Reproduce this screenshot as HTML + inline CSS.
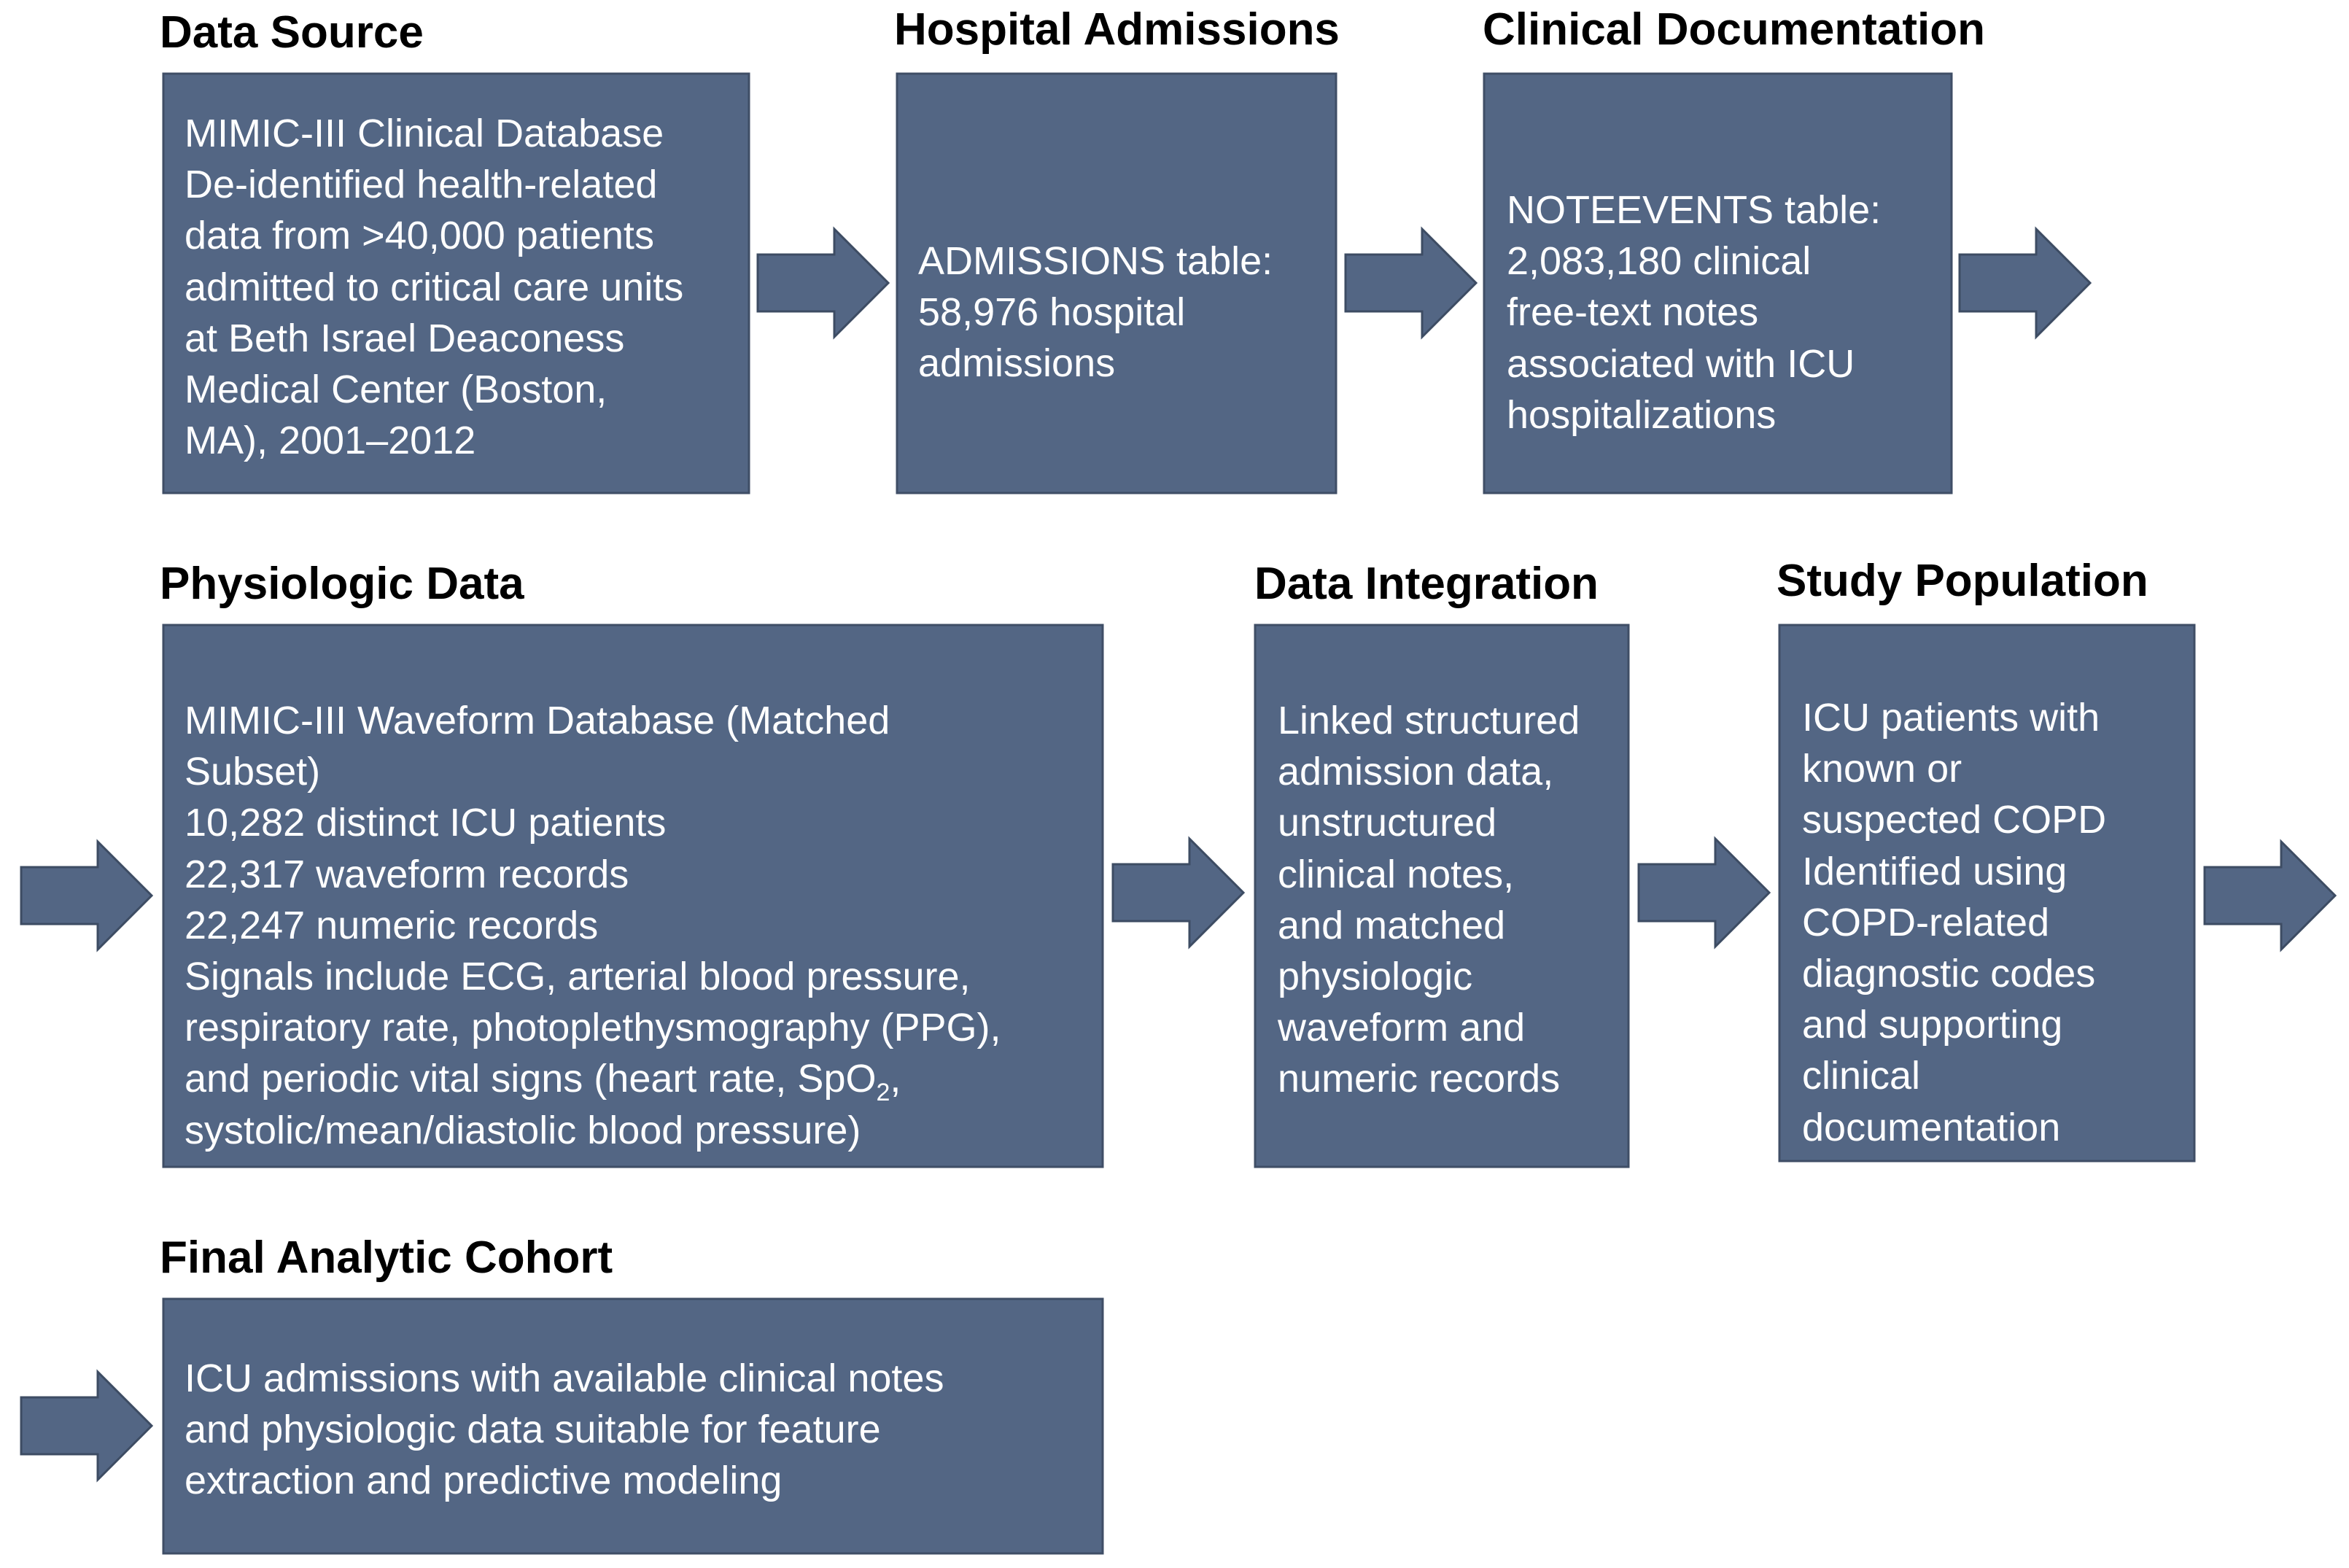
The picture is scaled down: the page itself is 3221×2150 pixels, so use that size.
<!DOCTYPE html>
<html><head><meta charset="utf-8"><style>
html,body{margin:0;padding:0;background:#fff}
body{width:3221px;height:2150px;position:relative;overflow:hidden;font-family:"Liberation Sans",Arial,sans-serif}
svg{position:absolute;left:0;top:0}
.t{position:absolute;font-weight:bold;font-size:62px;line-height:62px;color:#000;white-space:nowrap}
.b{position:absolute;font-size:54px;line-height:70.2px;color:#fff;white-space:nowrap}
</style></head><body>
<svg width="3221" height="2150" viewBox="0 0 3221 2150">
<defs>
<g id="ar"><polygon points="0,35 105,35 105,0 179,74 105,148 105,113 0,113" fill="#536684" stroke="#3d4c63" stroke-width="3"/></g>
</defs>
<g fill="#536684" stroke="#3f4e66" stroke-width="3">
<rect x="224" y="101" width="803" height="575"/>
<rect x="1230" y="101" width="602" height="575"/>
<rect x="2035" y="101" width="641" height="575"/>
<rect x="224" y="857" width="1288" height="743"/>
<rect x="1721" y="857" width="512" height="743"/>
<rect x="2440" y="857" width="569" height="735"/>
<rect x="224" y="1781" width="1288" height="349"/>
</g>
<use href="#ar" x="1039" y="314"/>
<use href="#ar" x="1845" y="314"/>
<use href="#ar" x="2687" y="314"/>
<use href="#ar" x="29" y="1154"/>
<use href="#ar" x="1526" y="1150"/>
<use href="#ar" x="2247" y="1150"/>
<use href="#ar" x="3023" y="1154"/>
<use href="#ar" x="29" y="1881"/>
</svg>

<div class="t" style="left:219px;top:14px">Data Source</div>
<div class="t" style="left:1226px;top:10px">Hospital Admissions</div>
<div class="t" style="left:2033px;top:10px">Clinical Documentation</div>
<div class="t" style="left:219px;top:770px">Physiologic Data</div>
<div class="t" style="left:1720px;top:770px">Data Integration</div>
<div class="t" style="left:2436px;top:766px">Study Population</div>
<div class="t" style="left:219px;top:1694px">Final Analytic Cohort</div>

<div class="b" style="left:253px;top:148px">MIMIC-III Clinical Database<br>De-identified health-related<br>data from &gt;40,000 patients<br>admitted to critical care units<br>at Beth Israel Deaconess<br>Medical Center (Boston,<br>MA), 2001–2012</div>
<div class="b" style="left:1259px;top:323px">ADMISSIONS table:<br>58,976 hospital<br>admissions</div>
<div class="b" style="left:2066px;top:253px">NOTEEVENTS table:<br>2,083,180 clinical<br>free-text notes<br>associated with ICU<br>hospitalizations</div>
<div class="b" style="left:253px;top:953px">MIMIC-III Waveform Database (Matched<br>Subset)<br>10,282 distinct ICU patients<br>22,317 waveform records<br>22,247 numeric records<br>Signals include ECG, arterial blood pressure,<br>respiratory rate, photoplethysmography (PPG),<br>and periodic vital signs (heart rate, SpO<sub style="font-size:34px;line-height:0">2</sub>,<br>systolic/mean/diastolic blood pressure)</div>
<div class="b" style="left:1752px;top:953px">Linked structured<br>admission data,<br>unstructured<br>clinical notes,<br>and matched<br>physiologic<br>waveform and<br>numeric records</div>
<div class="b" style="left:2471px;top:949px">ICU patients with<br>known or<br>suspected COPD<br>Identified using<br>COPD-related<br>diagnostic codes<br>and supporting<br>clinical<br>documentation</div>
<div class="b" style="left:253px;top:1855px">ICU admissions with available clinical notes<br>and physiologic data suitable for feature<br>extraction and predictive modeling</div>
</body></html>
